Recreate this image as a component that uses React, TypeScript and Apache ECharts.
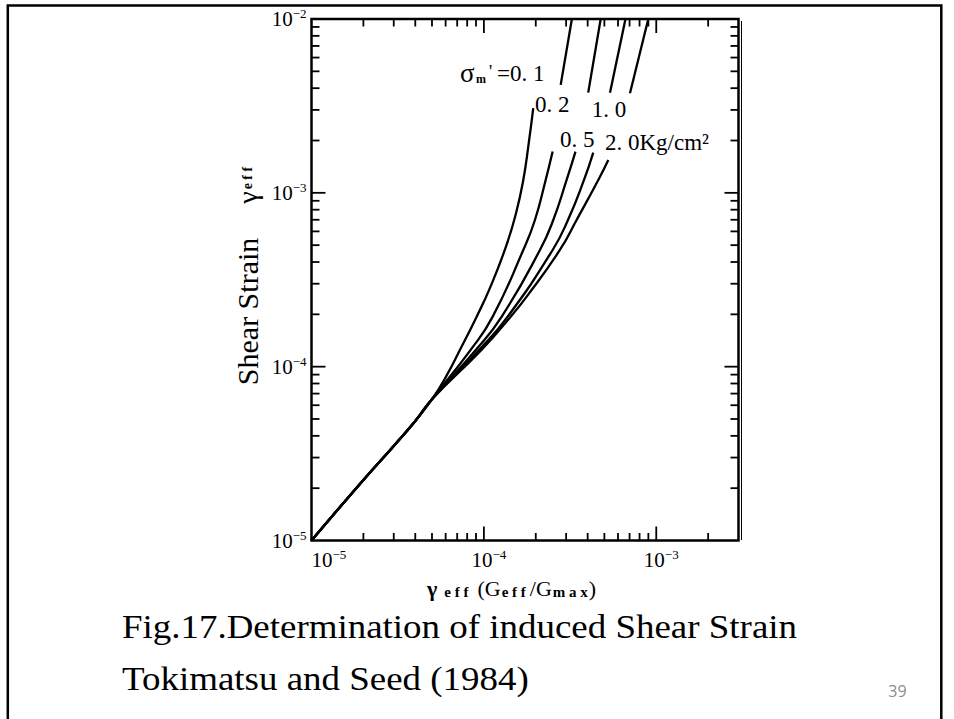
import { useEffect, useRef } from "react";
import * as echarts from "echarts";

// ---------- axes ----------
const X_MIN = 1e-5;
const X_MAX = 3e-3;
const Y_MIN = 1e-5;
const Y_MAX = 1e-2;
const X_LABEL_EXPONENTS = [-5, -4, -3];
const Y_LABEL_EXPONENTS = [-5, -4, -3, -2];
const X_MAJOR_TICKS = [1e-4, 1e-3];
const Y_MAJOR_TICKS = [1e-4, 1e-3];
const X_MINOR_TICKS = [
  2e-5, 3e-5, 4e-5, 5e-5, 6e-5, 7e-5, 8e-5, 9e-5,
  2e-4, 3e-4, 4e-4, 5e-4, 6e-4, 7e-4, 8e-4, 9e-4,
  2e-3,
];
const Y_MINOR_TICKS = [
  2e-5, 3e-5, 4e-5, 5e-5, 6e-5, 7e-5, 8e-5, 9e-5,
  2e-4, 3e-4, 4e-4, 5e-4, 6e-4, 7e-4, 8e-4, 9e-4,
  2e-3, 3e-3, 4e-3, 5e-3, 6e-3, 7e-3, 8e-3, 9e-3,
];

// ---------- curves: [γeff(Geff/Gmax), γeff] ----------
const SIGMA_01 = [
  [1e-5, 1e-5], [2e-5, 2.23e-5], [3e-5, 3.5e-5], [4e-5, 4.87e-5], [5e-5, 6.5e-5],
  [6.03e-5, 8.76e-5], [7.27e-5, 1.25e-4], [9.08e-5, 1.94e-4], [1.085e-4, 2.84e-4],
  [1.343e-4, 4.9e-4], [1.536e-4, 7.63e-4], [1.693e-4, 1.186e-3], [1.815e-4, 1.887e-3],
  [1.934e-4, 3.07e-3],
];
const SIGMA_02 = [
  [1e-5, 1e-5], [2e-5, 2.23e-5], [3e-5, 3.5e-5], [4e-5, 4.87e-5], [5e-5, 6.5e-5],
  [8.38e-5, 1.25e-4], [1.125e-4, 1.94e-4], [1.693e-4, 4.69e-4], [1.978e-4, 6.98e-4],
  [2.283e-4, 1.186e-3], [2.506e-4, 1.727e-3],
];
const SIGMA_02_TOP = [[2.79e-4, 4.18e-3], [3.24e-4, 1e-2]];
const SIGMA_05 = [
  [1e-5, 1e-5], [2e-5, 2.23e-5], [3e-5, 3.5e-5], [4e-5, 4.87e-5], [5e-5, 6.5e-5],
  [9.0e-5, 1.25e-4], [1.269e-4, 1.94e-4], [2.115e-4, 4.69e-4], [2.527e-4, 6.98e-4],
  [3.02e-4, 1.186e-3], [3.4e-4, 1.727e-3],
];
const SIGMA_05_TOP = [[4.03e-4, 3.77e-3], [4.76e-4, 1e-2]];
const SIGMA_10 = [
  [1e-5, 1e-5], [2e-5, 2.23e-5], [3e-5, 3.5e-5], [4e-5, 4.87e-5], [5e-5, 6.5e-5],
  [9.4e-5, 1.25e-4], [1.374e-4, 1.94e-4], [2.506e-4, 4.69e-4], [3.075e-4, 6.98e-4],
  [3.81e-4, 1.186e-3], [4.31e-4, 1.703e-3],
];
const SIGMA_10_TOP = [[5.39e-4, 3.77e-3], [6.63e-4, 1e-2]];
const SIGMA_20 = [
  [1e-5, 1e-5], [2e-5, 2.23e-5], [3e-5, 3.5e-5], [4e-5, 4.87e-5], [5e-5, 6.5e-5],
  [9.71e-5, 1.25e-4], [1.43e-4, 1.94e-4], [1.771e-4, 2.53e-4], [2.76e-4, 4.69e-4],
  [3.45e-4, 6.98e-4], [4.61e-4, 1.186e-3], [5.27e-4, 1.546e-3],
];
const SIGMA_20_TOP = [[7.04e-4, 3.74e-3], [8.99e-4, 1e-2]];

const CURVES: [string, number[][]][] = [
  ["0.1", SIGMA_01],
  ["0.2", SIGMA_02],
  ["0.2", SIGMA_02_TOP],
  ["0.5", SIGMA_05],
  ["0.5", SIGMA_05_TOP],
  ["1.0", SIGMA_10],
  ["1.0", SIGMA_10_TOP],
  ["2.0", SIGMA_20],
  ["2.0", SIGMA_20_TOP],
];

const CURVE_LABELS = ["0. 2", "1. 0", "0. 5", "2. 0Kg/cm²"];
const TITLE_LINE_1 = "Fig.17.Determination of induced Shear Strain";
const TITLE_LINE_2 = "Tokimatsu and Seed (1984)";
const PAGE_NUMBER = "39";

const SERIF = "Liberation Serif";
const INK = "#000";

function expOf(v: number, allowed: number[]): number | null {
  const l = Math.log10(v);
  const e = Math.round(l);
  if (Math.abs(l - e) > 1e-6) return null;
  return allowed.includes(e) ? e : null;
}

function buildOption() {
  const xTickData = [
    ...X_MINOR_TICKS.map((v) => [v, Y_MIN, 0]),
    ...X_MAJOR_TICKS.map((v) => [v, Y_MIN, 1]),
  ];
  const yTickData = [
    ...Y_MINOR_TICKS.map((v) => [X_MIN, v, 0]),
    ...Y_MAJOR_TICKS.map((v) => [X_MIN, v, 1]),
  ];
  const tickStyle = { stroke: INK, lineWidth: 1.8 };

  const labelRich = {
    b: { fontFamily: SERIF, fontSize: 21, color: INK, lineHeight: 24 },
    bp: { fontFamily: SERIF, fontSize: 21, color: INK, lineHeight: 24, padding: [0, 0, 0, 10] },
    s: { fontFamily: SERIF, fontSize: 13, color: INK, verticalAlign: "top", lineHeight: 14 },
  };

  const txt = (text: string, x: number, y: number, size: number, extra: any = {}) => ({
    type: "text",
    x,
    y,
    silent: true,
    style: {
      text,
      fontFamily: SERIF,
      fontSize: size,
      fill: INK,
      align: "left",
      verticalAlign: "middle",
      ...extra,
    },
  });

  return {
    animation: false,
    backgroundColor: "#fff",
    grid: {
      left: 311.5,
      top: 19,
      width: 427,
      height: 521.5,
      containLabel: false,
      show: true,
      borderColor: INK,
      borderWidth: 2.5,
      backgroundColor: "transparent",
    },
    xAxis: {
      type: "log",
      logBase: 10,
      min: X_MIN,
      max: X_MAX,
      axisLine: { show: false },
      axisTick: { show: false },
      splitLine: { show: false },
      axisLabel: {
        interval: 0,
        margin: 7,
        alignMinLabel: "left",
        showMaxLabel: false,
        formatter: (v: number) => {
          const e = expOf(v, X_LABEL_EXPONENTS);
          if (e === null) return "";
          return e === -5 ? `{b|10}{s|−${-e}}` : `{bp|10}{s|−${-e}}`;
        },
        rich: labelRich,
      },
    },
    yAxis: {
      type: "log",
      logBase: 10,
      min: Y_MIN,
      max: Y_MAX,
      axisLine: { show: false },
      axisTick: { show: false },
      splitLine: { show: false },
      axisLabel: {
        interval: 0,
        margin: 5,
        formatter: (v: number) => {
          const e = expOf(v, Y_LABEL_EXPONENTS);
          if (e === null) return "";
          return `{b|10}{s|−${-e}}`;
        },
        rich: labelRich,
      },
    },
    series: [
      ...CURVES.map(([name, data]) => ({
        type: "line",
        name: `σm' = ${name}`,
        data,
        smooth: 0.5,
        showSymbol: false,
        symbol: "none",
        lineStyle: { color: INK, width: 2.3 },
        z: 3,
        silent: true,
      })),
      {
        type: "custom",
        name: "x ticks",
        coordinateSystem: "cartesian2d",
        data: xTickData,
        encode: { x: 0, y: 1 },
        silent: true,
        clip: false,
        z: 4,
        renderItem: (_p: any, api: any) => {
          const v = api.value(0);
          const len = api.value(2) === 1 ? 14 : 7.5;
          const b = api.coord([v, Y_MIN]);
          const t = api.coord([v, Y_MAX]);
          return {
            type: "group",
            children: [
              { type: "line", shape: { x1: b[0], y1: b[1], x2: b[0], y2: b[1] - len }, style: tickStyle },
              { type: "line", shape: { x1: t[0], y1: t[1], x2: t[0], y2: t[1] + len }, style: tickStyle },
            ],
          };
        },
      },
      {
        type: "custom",
        name: "y ticks",
        coordinateSystem: "cartesian2d",
        data: yTickData,
        encode: { x: 0, y: 1 },
        silent: true,
        clip: false,
        z: 4,
        renderItem: (_p: any, api: any) => {
          const v = api.value(1);
          const len = api.value(2) === 1 ? 14 : 8;
          const l = api.coord([X_MIN, v]);
          const r = api.coord([X_MAX, v]);
          return {
            type: "group",
            children: [
              { type: "line", shape: { x1: l[0], y1: l[1], x2: l[0] + len, y2: l[1] }, style: tickStyle },
              { type: "line", shape: { x1: r[0], y1: r[1], x2: r[0] - len, y2: r[1] }, style: tickStyle },
            ],
          };
        },
      },
    ],
    graphic: [
      {
        type: "rect",
        silent: true,
        shape: { x: 7.8, y: 5.5, width: 933.5, height: 760 },
        style: { fill: "none", stroke: INK, lineWidth: 2.5 },
      },
      {
        type: "line",
        silent: true,
        shape: { x1: 741.5, y1: 21, x2: 741.5, y2: 540 },
        style: { stroke: INK, lineWidth: 1 },
      },
      // σm' = 0.1 label
      txt("σ", 460, 72.5, 27),
      txt("m", 476, 79, 12, { fontWeight: "bold" }),
      txt("'", 489, 72, 18),
      txt("=0. 1", 497, 73.3, 23),
      txt(CURVE_LABELS[0], 535, 104.2, 23),
      txt(CURVE_LABELS[1], 591.7, 109, 23),
      txt(CURVE_LABELS[2], 560, 139, 23),
      txt(CURVE_LABELS[3], 605, 142.5, 23),
      // x axis title
      {
        type: "text",
        x: 427,
        y: 588,
        silent: true,
        style: {
          text: "{g|γ}{e1|e f f}{n|(G}{e2|e f f}{n|/G}{e3|m a x}{n|)}",
          align: "left",
          verticalAlign: "middle",
          rich: {
            g: { fontFamily: SERIF, fontSize: 22, fontWeight: "bold", color: INK, padding: [0, 3, 0, 0] },
            e1: { fontFamily: SERIF, fontSize: 15, fontWeight: "bold", color: INK, verticalAlign: "bottom", padding: [0, 9, 0, 4] },
            e2: { fontFamily: SERIF, fontSize: 15, fontWeight: "bold", color: INK, verticalAlign: "bottom", padding: [0, 4, 0, 1] },
            e3: { fontFamily: SERIF, fontSize: 15, fontWeight: "bold", color: INK, verticalAlign: "bottom", padding: [0, 1, 0, 1] },
            n: { fontFamily: SERIF, fontSize: 22, color: INK },
          },
        },
      },
      // y axis title
      {
        type: "text",
        x: 247.5,
        y: 276,
        rotation: Math.PI / 2,
        silent: true,
        style: {
          text: "{n|Shear Strain}{g|γ}{e|e f f}",
          align: "center",
          verticalAlign: "middle",
          rich: {
            n: { fontFamily: SERIF, fontSize: 30, color: INK },
            g: { fontFamily: SERIF, fontSize: 28, color: INK, padding: [0, 2, 0, 34] },
            e: { fontFamily: SERIF, fontSize: 14, fontWeight: "bold", color: INK },
          },
        },
      },
      // caption
      {
        type: "text",
        x: 122,
        y: 627.2,
        scaleX: 1.12,
        silent: true,
        style: { text: TITLE_LINE_1, fontFamily: SERIF, fontSize: 33, fill: INK, align: "left", verticalAlign: "middle" },
      },
      {
        type: "text",
        x: 122,
        y: 678.9,
        scaleX: 1.12,
        silent: true,
        style: { text: TITLE_LINE_2, fontFamily: SERIF, fontSize: 33, fill: INK, align: "left", verticalAlign: "middle" },
      },
      {
        type: "text",
        x: 897.5,
        y: 691,
        silent: true,
        style: { text: PAGE_NUMBER, fontFamily: "Open Sans", fontSize: 16, fill: "#8c8c8c", align: "center", verticalAlign: "middle" },
      },
    ],
  };
}

export default function App() {
  const ref = useRef<HTMLDivElement>(null);
  useEffect(() => {
    if (!ref.current) return;
    const chart = echarts.init(ref.current, null, { renderer: "svg" });
    chart.setOption(buildOption() as any);
    return () => chart.dispose();
  }, []);
  return (
    <div
      ref={ref}
      style={{ position: "absolute", left: 0, top: 0, width: 954, height: 719, background: "#fff" }}
    />
  );
}
